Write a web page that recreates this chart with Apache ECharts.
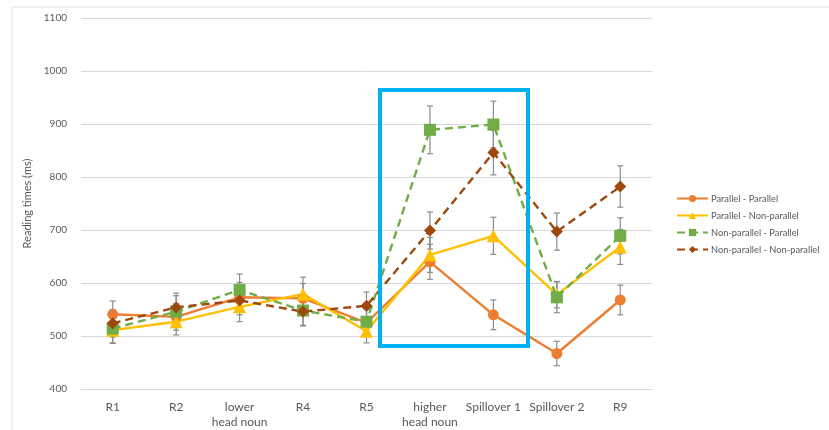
<!DOCTYPE html>
<html>
<head>
<meta charset="utf-8">
<script src="https://cdn.jsdelivr.net/npm/echarts@6/dist/echarts.min.js"></script>
<style>
  html, body { margin: 0; padding: 0; background: #fff; }
  #chart { width: 829px; height: 430px; }
</style>
</head>
<body>
<div id="chart"></div>
<script>
// Sentence regions
const categories = ['R1', 'R2', 'lower\nhead noun', 'R4', 'R5', 'higher\nhead noun', 'Spillover 1', 'Spillover 2', 'R9'];

// Mean reading times (ms) per condition
const parParMeans       = [541, 536, 573, 571, 525, 640, 540, 467, 568];
const parNonParMeans    = [511, 527, 555, 579, 509, 653, 689, 578, 668];
const nonParParMeans    = [514, 546, 587, 548, 527, 889, 899, 573, 689];
const nonParNonParMeans = [524, 554, 567, 546, 557, 699, 846, 697, 782];

// Standard errors (ms) per condition
const parParErr       = [25, 25, 28, 28, 25, 33, 28, 23, 28];
const parNonParErr    = [24, 25, 28, 32, 22, 33, 35, 25, 33];
const nonParParErr    = [28, 30, 30, 28, 25, 45, 44, 29, 34];
const nonParNonParErr = [26, 27, 27, 27, 26, 35, 42, 35, 39];

// Y axis
const yMin = 400, yMax = 1100, yStep = 100;

const conditions = [
  { name: 'Parallel - Parallel', means: parParMeans, err: parParErr, color: '#ED7D31', symbol: 'circle', size: 11, dashed: false },
  { name: 'Parallel - Non-parallel', means: parNonParMeans, err: parNonParErr, color: '#FFC000', symbol: 'triangle', size: 13, dashed: false },
  { name: 'Non-parallel - Parallel', means: nonParParMeans, err: nonParParErr, color: '#70AD47', symbol: 'rect', size: 12, dashed: true },
  { name: 'Non-parallel - Non-parallel', means: nonParNonParMeans, err: nonParNonParErr, color: '#9E480E', symbol: 'diamond', size: 12, dashed: true }
];

const chart = echarts.init(document.getElementById('chart'), null, { renderer: 'canvas' });

function errorBarItem(params, api) {
  const xi = api.value(0);
  const lo = api.coord([xi, api.value(1)]);
  const hi = api.coord([xi, api.value(2)]);
  const cap = 3;
  const style = { stroke: '#8C8C8C', lineWidth: 1.2, fill: null };
  return {
    type: 'group',
    children: [
      { type: 'line', shape: { x1: lo[0], y1: lo[1], x2: hi[0], y2: hi[1] }, style },
      { type: 'line', shape: { x1: lo[0] - cap, y1: lo[1], x2: lo[0] + cap, y2: lo[1] }, style },
      { type: 'line', shape: { x1: hi[0] - cap, y1: hi[1], x2: hi[0] + cap, y2: hi[1] }, style }
    ]
  };
}

const series = [];
// Error bars first so the markers sit on top
conditions.forEach(c => {
  series.push({
    type: 'custom',
    name: c.name + ' SE',
    renderItem: errorBarItem,
    data: c.means.map((m, i) => [i, m - c.err[i], m + c.err[i]]),
    encode: { x: 0, y: [1, 2] },
    z: 1,
    silent: true
  });
});
conditions.forEach(c => {
  series.push({
    type: 'line',
    name: c.name,
    data: c.means,
    symbol: c.symbol,
    symbolSize: c.size,
    showAllSymbol: true,
    itemStyle: { color: c.color, borderWidth: 0 },
    lineStyle: { color: c.color, width: 2.4, type: c.dashed ? [8, 5] : 'solid' },
    z: 3
  });
});

const fontFamily = 'Lato, "Open Sans", sans-serif';

chart.setOption({
  backgroundColor: '#ffffff',
  animation: false,
  grid: { left: 81, right: 177, top: 18, bottom: 41, containLabel: false },
  legend: {
    orient: 'vertical',
    left: 671,
    top: 189,
    itemWidth: 31,
    itemHeight: 9,
    itemGap: 8,
    data: conditions.map(c => c.name),
    textStyle: { color: '#595959', fontSize: 9.3, fontFamily, padding: [0, 0, 0, -2] }
  },
  xAxis: {
    type: 'category',
    data: categories,
    boundaryGap: true,
    axisLine: { show: true, lineStyle: { color: '#D9D9D9', width: 1 } },
    axisTick: { show: false },
    axisLabel: { color: '#595959', fontSize: 12, fontFamily, margin: 11, lineHeight: 15, interval: 0 }
  },
  yAxis: {
    type: 'value',
    min: yMin,
    max: yMax,
    interval: yStep,
    name: 'Reading times (ms)',
    nameLocation: 'middle',
    nameGap: 42,
    nameRotate: 90,
    nameTextStyle: { color: '#595959', fontSize: 11, fontFamily },
    axisLine: { show: false },
    axisTick: { show: false },
    axisLabel: { color: '#595959', fontSize: 10, fontFamily, margin: 14, formatter: v => String(v) },
    splitLine: { lineStyle: { color: '#D9D9D9', width: 1 } }
  },
  graphic: [
    {
      type: 'rect',
      shape: { x: 12, y: 7, width: 840, height: 440 },
      style: { fill: null, stroke: '#E3E3E3', lineWidth: 1 },
      silent: true,
      z: 0
    },
    {
      type: 'rect',
      shape: { x: 380, y: 90, width: 148, height: 256 },
      style: { fill: null, stroke: '#00B0F0', lineWidth: 4 },
      silent: true,
      z: 10
    }
  ],
  series
});
</script>
</body>
</html>
